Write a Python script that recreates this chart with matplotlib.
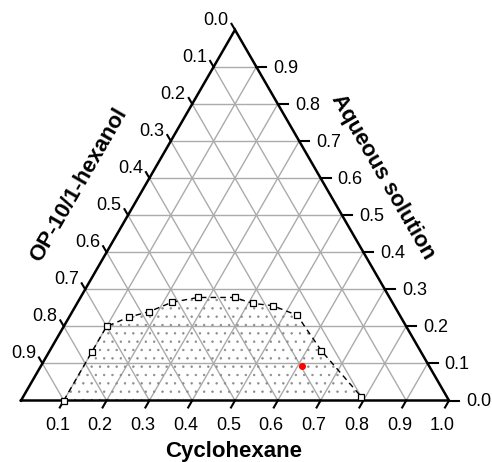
import numpy as np
import matplotlib
matplotlib.use("Agg")
import matplotlib.pyplot as plt

plt.rcParams['font.family'] = ['Liberation Sans', 'DejaVu Sans']
plt.rcParams['hatch.linewidth'] = 0.5

# ---- data (mass fractions) ----
binodal_cyclohexane = [0.10, 0.10, 0.10, 0.14, 0.18, 0.22, 0.275, 0.36, 0.41, 0.46, 0.53, 0.635, 0.79]
binodal_aqueous     = [0.00, 0.13, 0.20, 0.225, 0.24, 0.265, 0.278, 0.278, 0.262, 0.256, 0.23, 0.134, 0.01]
sample_cyclohexane = [0.61]
sample_aqueous = [0.093]

bottom_ticks = [0.1, 0.2, 0.3, 0.4, 0.5, 0.6, 0.7, 0.8, 0.9, 1.0]   # Cyclohexane
left_ticks = [0.0, 0.1, 0.2, 0.3, 0.4, 0.5, 0.6, 0.7, 0.8, 0.9]     # OP-10/1-hexanol
right_ticks = [0.0, 0.1, 0.2, 0.3, 0.4, 0.5, 0.6, 0.7, 0.8, 0.9]    # Aqueous solution
grid_levels = [0.1, 0.2, 0.3, 0.4, 0.5, 0.6, 0.7, 0.8, 0.9]

S3 = np.sqrt(3) / 2


def tern(c, w):
    c = np.asarray(c, float)
    w = np.asarray(w, float)
    return c + w / 2, w * S3


W, H = 492, 462
fig = plt.figure(figsize=(W / 100, H / 100), dpi=100)
ax = fig.add_axes([0, 0, 1, 1])
PX = 428.0  # pixels per unit
x0, ybase = 21.0, 400.5
ax.set_xlim(-x0 / PX, (W - x0) / PX)
ax.set_ylim(-(H - ybase) / PX, ybase / PX)
ax.axis('off')

p = 1 / PX  # one pixel in data units
gridc = '#ababab'

# grid lines
for g in grid_levels:
    xs, ys = tern([0, 1 - g], [g, g])
    ax.plot(xs, ys, color=gridc, lw=1.0, zorder=1)
    xs, ys = tern([g, g], [0, 1 - g])
    ax.plot(xs, ys, color=gridc, lw=1.0, zorder=1)
    xs, ys = tern([1 - g, 0], [0, 1 - g])
    ax.plot(xs, ys, color=gridc, lw=1.0, zorder=1)

# hatched two-phase region
bx, by = tern(binodal_cyclohexane, binodal_aqueous)
ax.fill(bx, by, facecolor='none', edgecolor='#8c8c8c', lw=0, hatch='..', zorder=2)

# triangle border
tx, ty = tern([0, 1, 0, 0], [0, 0, 1, 0])
ax.plot(tx, ty, color='black', lw=1.8, zorder=4, solid_joinstyle='miter')

# binodal curve
ax.plot(bx, by, color='black', lw=1.0, ls=(0, (4, 3)), zorder=5)
ax.plot(bx, by, ls='none', marker='s', ms=4.8, mfc='white', mec='black', mew=0.9, zorder=6)

# sample point
sx, sy = tern(sample_cyclohexane, sample_aqueous)
ax.plot(sx, sy, ls='none', marker='o', ms=4, color='red', mec='red', zorder=7)

fs = 13
for t in bottom_ticks:
    x, y = tern(t, 0)
    ax.plot([x, x - 4 * p], [y, y - 7 * p], color='black', lw=1.5, zorder=4)
    ax.text(x - 6.5 * p, y - 16 * p, f"{t:.1f}", ha='center', va='top', fontsize=fs)
for t in left_ticks:
    x, y = tern(0, 1 - t)
    ax.plot([x, x - 3.5 * p], [y, y + 6 * p], color='black', lw=1.5, zorder=4)
    ax.text(x - 6.5 * p, y + 9.5 * p, f"{t:.1f}", ha='right', va='center', fontsize=fs)
for t in right_ticks:
    x, y = tern(1 - t, t)
    ax.plot([x, x + 10 * p], [y, y], color='black', lw=1.5, zorder=4)
    ax.text(x + 17 * p, y - 1.5 * p, f"{t:.1f}", ha='left', va='center', fontsize=fs)

# axis titles
tfs = 16
ax.text((233.5 - x0) * p, (ybase - 457) * p, "Cyclohexane", ha='center', va='baseline',
        fontsize=tfs, fontweight='bold')
ax.text((79 - x0) * p, (ybase - 185) * p, "OP-10/1-hexanol", ha='center', va='center',
        rotation=60, rotation_mode='anchor', fontsize=tfs, fontweight='bold')
ax.text((383 - x0) * p, (ybase - 177) * p, "Aqueous solution", ha='center', va='center',
        rotation=-60, rotation_mode='anchor', fontsize=tfs, fontweight='bold')

fig.savefig('out.png', dpi=100)
